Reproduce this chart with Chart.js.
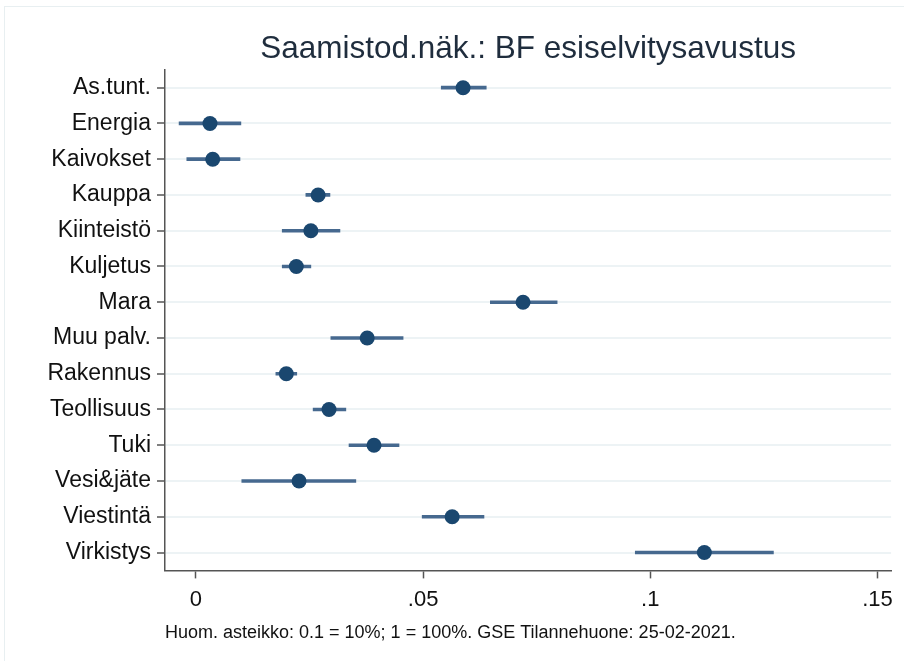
<!DOCTYPE html>
<html>
<head>
<meta charset="utf-8">
<script src="https://cdn.jsdelivr.net/npm/chart.js@4/dist/chart.umd.min.js"></script>
<style>
  html, body { margin: 0; padding: 0; background: #ffffff; }
  #wrap { position: relative; width: 904px; height: 661px; }
  #frame { position: absolute; left: 4px; top: 6px; right: 0; bottom: 0;
           border-top: 1px solid #e8eff1; border-left: 1px solid #e8eff1; pointer-events: none; }
  canvas { display: block; }
</style>
</head>
<body>
<div id="wrap">
  <canvas id="c" width="904" height="661"></canvas>
  <div id="frame"></div>
</div>
<script>
// ---- Data ----
const categories = ["As.tunt.", "Energia", "Kaivokset", "Kauppa", "Kiinteistö", "Kuljetus", "Mara",
  "Muu palv.", "Rakennus", "Teollisuus", "Tuki", "Vesi&jäte", "Viestintä", "Virkistys"];
const estimates = [0.0588, 0.0031, 0.0037, 0.0269, 0.0253, 0.0221, 0.0720,
  0.0377, 0.0199, 0.0293, 0.0392, 0.0227, 0.0564, 0.1119];
const lowerCI = [0.0540, -0.0037, -0.0020, 0.0242, 0.0190, 0.0190, 0.0648,
  0.0297, 0.0176, 0.0258, 0.0337, 0.0101, 0.0498, 0.0967];
const upperCI = [0.0639, 0.0099, 0.0097, 0.0295, 0.0317, 0.0253, 0.0795,
  0.0456, 0.0222, 0.0330, 0.0447, 0.0352, 0.0634, 0.1271];
const xTickValues = [0, 0.05, 0.1, 0.15];
const xTickLabels = ["0", ".05", ".1", ".15"];
const titleText = "Saamistod.näk.: BF esiselvitysavustus";
const noteText = "Huom. asteikko: 0.1 = 10%; 1 = 100%. GSE Tilannehuone: 25-02-2021.";

const ciRanges = lowerCI.map((lo, i) => [lo, upperCI[i]]);
const FONT = "'Liberation Sans', Arial, sans-serif";

new Chart(document.getElementById('c'), {
  type: 'bar',
  data: {
    labels: categories,
    datasets: [
      {
        type: 'line',
        label: 'estimate',
        data: estimates,
        showLine: false,
        pointRadius: 7.5,
        pointHoverRadius: 7.5,
        pointBackgroundColor: '#1a476f',
        pointBorderColor: '#1a476f',
        pointBorderWidth: 0,
        order: 0
      },
      {
        type: 'bar',
        label: 'CI',
        data: ciRanges,
        backgroundColor: '#46698f',
        borderWidth: 0,
        barThickness: 3,
        order: 1
      }
    ]
  },
  options: {
    indexAxis: 'y',
    responsive: false,
    animation: false,
    devicePixelRatio: 1,
    layout: { padding: { left: 0, right: 12, top: 0, bottom: 0 } },
    plugins: {
      legend: { display: false },
      tooltip: { enabled: false },
      title: {
        display: true,
        text: titleText,
        fullSize: false,
        color: '#1f2d3d',
        font: { family: FONT, size: 31.5, weight: 'normal', lineHeight: 1.2 },
        padding: { top: 30, bottom: 2 }
      },
      subtitle: {
        display: true,
        text: noteText,
        position: 'bottom',
        align: 'start',
        fullSize: false,
        color: '#111111',
        font: { family: FONT, size: 18, weight: 'normal', lineHeight: 1.2 },
        padding: { top: 0, bottom: 17 }
      }
    },
    scales: {
      x: {
        type: 'linear',
        min: -0.0068,
        max: 0.153,
        afterBuildTicks: (scale) => { scale.ticks = xTickValues.map(v => ({ value: v })); },
        ticks: {
          color: '#111111',
          font: { family: FONT, size: 22, lineHeight: 1.0 },
          padding: 11,
          maxRotation: 0,
          callback: (value) => {
            const idx = xTickValues.findIndex(t => Math.abs(t - value) < 1e-9);
            return idx >= 0 ? xTickLabels[idx] : '';
          }
        },
        grid: {
          drawOnChartArea: false,
          drawTicks: true,
          tickLength: 8,
          tickColor: '#555555',
          tickWidth: 1.5
        },
        border: { display: true, color: '#555555', width: 1.5 }
      },
      y: {
        type: 'category',
        offset: true,
        afterFit: (scale) => { scale.width = 165; },
        ticks: {
          color: '#111111',
          font: { family: FONT, size: 23 },
          padding: 6
        },
        grid: {
          offset: false,
          color: '#edf3f5',
          lineWidth: 2,
          drawTicks: true,
          tickLength: 8,
          tickColor: '#555555',
          tickWidth: 1.5
        },
        border: { display: true, color: '#555555', width: 1.5 }
      }
    }
  }
});
</script>
</body>
</html>
